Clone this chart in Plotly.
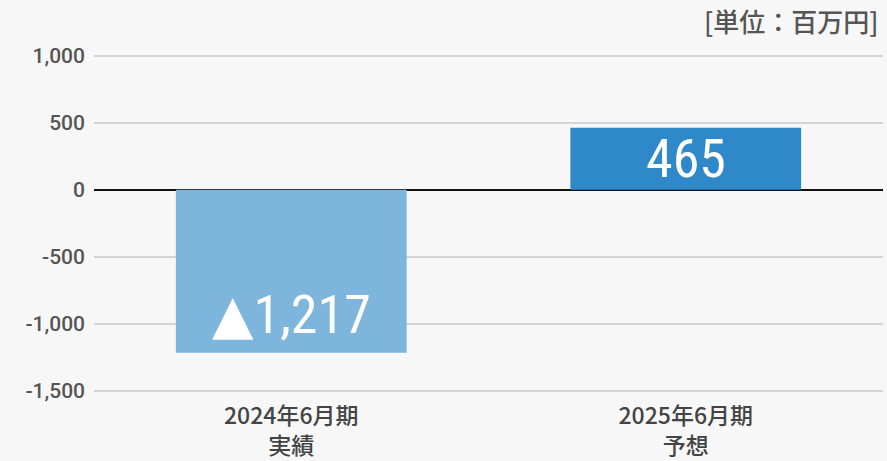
import plotly.graph_objects as go

categories = ["2024年6月期<br>実績", "2025年6月期<br>予想"]
values = [-1217, 465]
bar_labels = ["<span style='font-family:DejaVu Sans;font-size:54px'>▲</span>1,217", "465"]
bar_colors = ["#7db5dd", "#2f88c8"]
tick_vals = [1000, 500, 0, -500, -1000, -1500]
tick_text = ["1,000", "500", "0", "-500", "-1,000", "-1,500"]
unit_label = "[単位：百万円]"

fig = go.Figure()
fig.add_trace(go.Bar(
    x=categories, y=values, marker_color=bar_colors, marker_line_width=0,
    hoverinfo="skip",
))

label_font = dict(family="Liberation Sans Narrow, Roboto Condensed, Roboto, sans-serif", size=54, color="white")
for c, v, t in zip(categories, values, bar_labels):
    if v < 0:
        fig.add_annotation(x=c, y=v, text=t, showarrow=False, yanchor="bottom", yshift=5, font=label_font)
    else:
        fig.add_annotation(x=c, y=v / 2, text=t, showarrow=False, yanchor="middle", font=label_font)

fig.add_annotation(xref="paper", yref="paper", x=1, y=1, xanchor="right", yanchor="bottom",
                   xshift=-2, yshift=11, text=unit_label, showarrow=False,
                   font=dict(family="Noto Sans CJK JP", size=26, color="#555555", weight=500))

fig.update_layout(
    width=887, height=461,
    margin=dict(l=94, r=4, t=52, b=67, autoexpand=False),
    paper_bgcolor="#f7f7f8", plot_bgcolor="#f7f7f8",
    bargap=0.415, showlegend=False,
    xaxis=dict(showgrid=False, showline=False, ticks="", ticklabelstandoff=6, automargin=False,
               tickfont=dict(family="Noto Sans CJK JP", size=23, color="#444444", weight=500)),
    yaxis=dict(range=[-1525, 1030], tickvals=tick_vals, ticktext=tick_text, automargin=False,
               showgrid=True, gridcolor="#d4d4d4", gridwidth=2,
               zeroline=True, zerolinecolor="#111111", zerolinewidth=2,
               showline=False, ticks="", ticklabelstandoff=8,
               tickfont=dict(family="Roboto", size=21, color="#555555", weight=500)),
)
fig.write_html("out.html", config={"displayModeBar": False},
               post_script="document.body.style.margin='0';")
